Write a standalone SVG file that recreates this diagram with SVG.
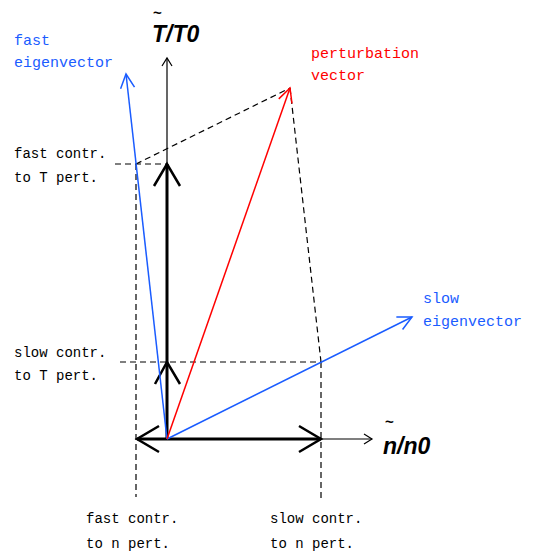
<svg xmlns="http://www.w3.org/2000/svg" width="537" height="556" viewBox="0 0 537 556">
<style>
.lbl{font-family:"Liberation Mono","Courier New",monospace;font-size:14px;fill:#000}
.big{font-size:15px}
.blue{fill:#1a5cff}
.red{fill:#ff0000}
.ax{font-family:"Liberation Sans",Arial,sans-serif;font-weight:bold;font-style:italic;font-size:23px;fill:#000}
.tl{font-family:"Liberation Sans",Arial,sans-serif;font-weight:bold;font-size:15px;fill:#000}
.dash{stroke:#000;stroke-width:1.2;stroke-dasharray:6,4;fill:none}
</style>
<defs>
<marker id="thin" markerUnits="userSpaceOnUse" markerWidth="20" markerHeight="20" viewBox="-10 -10 20 20" refX="0" refY="0" orient="auto">
<path d="M-8,-5 L0,0 L-8,5" fill="none" stroke="#000" stroke-width="1.2"/>
</marker>
<marker id="blueHead" markerUnits="userSpaceOnUse" markerWidth="30" markerHeight="30" viewBox="-15 -15 30 30" refX="0" refY="0" orient="auto">
<path d="M-14,-7 L0,0 L-14,7" fill="none" stroke="#1a5cff" stroke-width="1.5"/>
</marker>
<marker id="redHead" markerUnits="userSpaceOnUse" markerWidth="30" markerHeight="30" viewBox="-15 -15 30 30" refX="0" refY="0" orient="auto">
<path d="M-14,-7 L0,0 L-14,7" fill="none" stroke="#ff0000" stroke-width="1.5"/>
</marker>
<marker id="thick" markerUnits="userSpaceOnUse" markerWidth="50" markerHeight="50" viewBox="-25 -25 50 50" refX="0" refY="0" orient="auto">
<path d="M-22,-13 L0,0 L-22,13" fill="none" stroke="#000" stroke-width="2.5"/>
</marker>
</defs>

<g id="connectors">
<path class="dash" d="M115,164 H167"/>
<path class="dash" d="M136,164 L290,88"/>
<path class="dash" d="M290,88 L321,362"/>
<path class="dash" d="M136,164 V497"/>
<path class="dash" d="M321,362 V500"/>
<path class="dash" d="M120,362 H321"/>
<line x1="167" y1="439" x2="167" y2="58" stroke="#000" stroke-width="1.2" marker-end="url(#thin)"/>
<line x1="167" y1="439" x2="372" y2="439" stroke="#000" stroke-width="1.2" marker-end="url(#thin)"/>
<line x1="167" y1="439" x2="167" y2="164" stroke="#000" stroke-width="3" marker-end="url(#thick)"/>
<path d="M155,384 L167,362 L180,384" fill="none" stroke="#000" stroke-width="2.5"/>
<line x1="167" y1="439" x2="137" y2="439" stroke="#000" stroke-width="3" marker-end="url(#thick)"/>
<line x1="167" y1="439" x2="321" y2="439" stroke="#000" stroke-width="3" marker-end="url(#thick)"/>
<line x1="167" y1="439" x2="126" y2="74" stroke="#1a5cff" stroke-width="1.5" marker-end="url(#blueHead)"/>
<line x1="167" y1="439" x2="412" y2="317" stroke="#1a5cff" stroke-width="1.5" marker-end="url(#blueHead)"/>
<line x1="167" y1="439" x2="290" y2="88" stroke="#ff0000" stroke-width="1.5" marker-end="url(#redHead)"/>
</g>

<g id="axisT">
<text class="tl" x="153" y="18">~</text>
<text class="ax" x="152" y="42">T/T0</text>
</g>
<g id="axisN">
<text class="tl" x="385" y="427">~</text>
<text class="ax" x="383" y="454">n/n0</text>
</g>
<g id="fastEigen">
<text class="lbl big blue" x="14" y="45">fast</text>
<text class="lbl big blue" x="14" y="67">eigenvector</text>
</g>
<g id="perturbation">
<text class="lbl big red" x="311" y="58">perturbation</text>
<text class="lbl big red" x="311" y="80">vector</text>
</g>
<g id="slowEigen">
<text class="lbl big blue" x="423" y="303">slow</text>
<text class="lbl big blue" x="423" y="326">eigenvector</text>
</g>
<g id="fastT">
<text class="lbl" x="14" y="158">fast contr.</text>
<text class="lbl" x="14" y="182">to T pert.</text>
</g>
<g id="slowT">
<text class="lbl" x="14" y="357">slow contr.</text>
<text class="lbl" x="14" y="380">to T pert.</text>
</g>
<g id="fastN">
<text class="lbl" x="86" y="523">fast contr.</text>
<text class="lbl" x="86" y="548">to n pert.</text>
</g>
<g id="slowN">
<text class="lbl" x="270" y="523">slow contr.</text>
<text class="lbl" x="270" y="548">to n pert.</text>
</g>
</svg>
